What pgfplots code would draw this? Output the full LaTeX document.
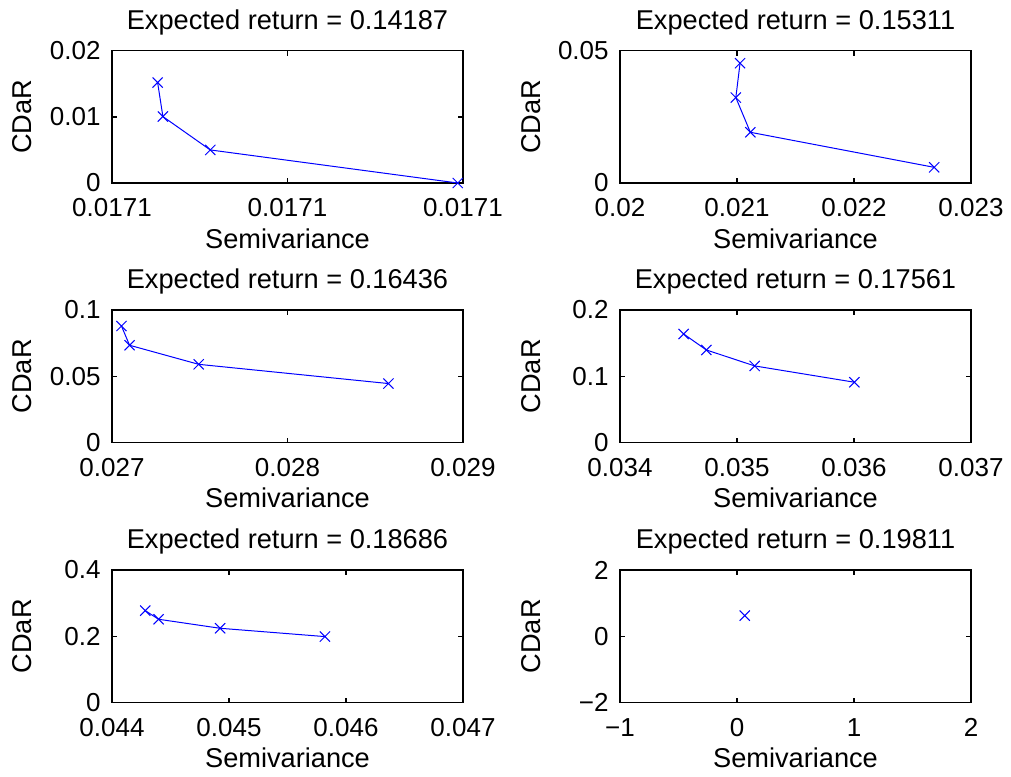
\documentclass[border=0pt]{standalone}
\usepackage{fontspec}
\setmainfont{Liberation Sans}
\usepackage{pgfplots}
\pgfplotsset{compat=1.18}
\pgfplotsset{
 mat/.style={
  scale only axis, width=175.5pt, height=66.25pt, anchor=north west,
  axis line style={line width=0.75pt},
  every tick/.style={black, line width=0.75pt},
  tick align=inside, tick pos=both, major tick length=2.5pt,
  scaled ticks=false, clip=false,
  every axis title shift=0pt,
  title style={at={([yshift=10.6pt]axis description cs:0.5,1)}, anchor=base, inner sep=0pt, font=\fontsize{13.6}{16}\selectfont},
  xlabel style={at={([yshift=-32.5pt]axis description cs:0.5,0)}, anchor=base, inner sep=0pt, font=\fontsize{13.6}{16}\selectfont},
  ylabel style={at={([xshift=-40pt]axis description cs:0,0.5)}, anchor=base, inner sep=0pt, font=\fontsize{13.6}{16}\selectfont},
  xticklabel style={anchor=base, yshift=-16.8pt, inner sep=0pt, font=\fontsize{13}{15}\selectfont},
  yticklabel style={anchor=east, xshift=-5.5pt, inner sep=0pt, font=\fontsize{13}{15}\selectfont},
  xlabel=Semivariance, ylabel=CDaR,
 },
 ser/.style={color={rgb,1:red,0;green,0;blue,1}, line width=0.5pt, mark=x, mark size=3.6pt, mark options={solid}}
}
\begin{document}
\begin{tikzpicture}
\path[use as bounding box] (0,0) rectangle (505.5pt,-388pt);
% 1
\begin{axis}[mat, at={(56pt,-25.25pt)},
  xmin=0.01710, xmax=0.01712, ymin=0, ymax=0.02,
  xtick={0.01710,0.01711,0.01712}, xticklabels={0.0171,0.0171,0.0171},
  ytick={0,0.01,0.02}, yticklabels={0,0.01,0.02},
  title={Expected return = 0.14187}]
\addplot[ser] coordinates {(0.0171026,0.01516) (0.0171029,0.01003) (0.0171056,0.00499) (0.0171197,0.0)};
\end{axis}
% 2
\begin{axis}[mat, at={(310pt,-25.25pt)},
  xmin=0.02, xmax=0.023, ymin=0, ymax=0.05,
  xtick={0.02,0.021,0.022,0.023}, xticklabels={0.02,0.021,0.022,0.023},
  ytick={0,0.05}, yticklabels={0,0.05},
  title={Expected return = 0.15311}]
\addplot[ser] coordinates {(0.021026,0.04521) (0.02099,0.03224) (0.021114,0.01914) (0.022685,0.00592)};
\end{axis}
% 3
\begin{axis}[mat, at={(56pt,-155pt)},
  xmin=0.027, xmax=0.029, ymin=0, ymax=0.1,
  xtick={0.027,0.028,0.029}, xticklabels={0.027,0.028,0.029},
  ytick={0,0.05,0.1}, yticklabels={0,0.05,0.1},
  title={Expected return = 0.16436}]
\addplot[ser] coordinates {(0.027054,0.0879) (0.0271,0.0734) (0.027494,0.0590) (0.028575,0.0445)};
\end{axis}
% 4
\begin{axis}[mat, at={(310pt,-155pt)},
  xmin=0.034, xmax=0.037, ymin=0, ymax=0.2,
  xtick={0.034,0.035,0.036,0.037}, xticklabels={0.034,0.035,0.036,0.037},
  ytick={0,0.1,0.2}, yticklabels={0,0.1,0.2},
  title={Expected return = 0.17561}]
\addplot[ser] coordinates {(0.034544,0.1638) (0.034738,0.1397) (0.035151,0.1156) (0.036003,0.0910)};
\end{axis}
% 5
\begin{axis}[mat, at={(56pt,-285pt)},
  xmin=0.044, xmax=0.047, ymin=0, ymax=0.4,
  xtick={0.044,0.045,0.046,0.047}, xticklabels={0.044,0.045,0.046,0.047},
  ytick={0,0.2,0.4}, yticklabels={0,0.2,0.4},
  title={Expected return = 0.18686}]
\addplot[ser] coordinates {(0.044284,0.2774) (0.044398,0.2513) (0.044924,0.2241) (0.04582,0.199)};
\end{axis}
% 6
\begin{axis}[mat, at={(310pt,-285pt)},
  xmin=-1, xmax=2, ymin=-2, ymax=2,
  xtick={-1,0,1,2}, xticklabels={−1,0,1,2},
  ytick={-2,0,2}, yticklabels={−2,0,2},
  title={Expected return = 0.19811}]
\addplot[ser, only marks] coordinates {(0.066,0.623)};
\end{axis}
\end{tikzpicture}
\end{document}
